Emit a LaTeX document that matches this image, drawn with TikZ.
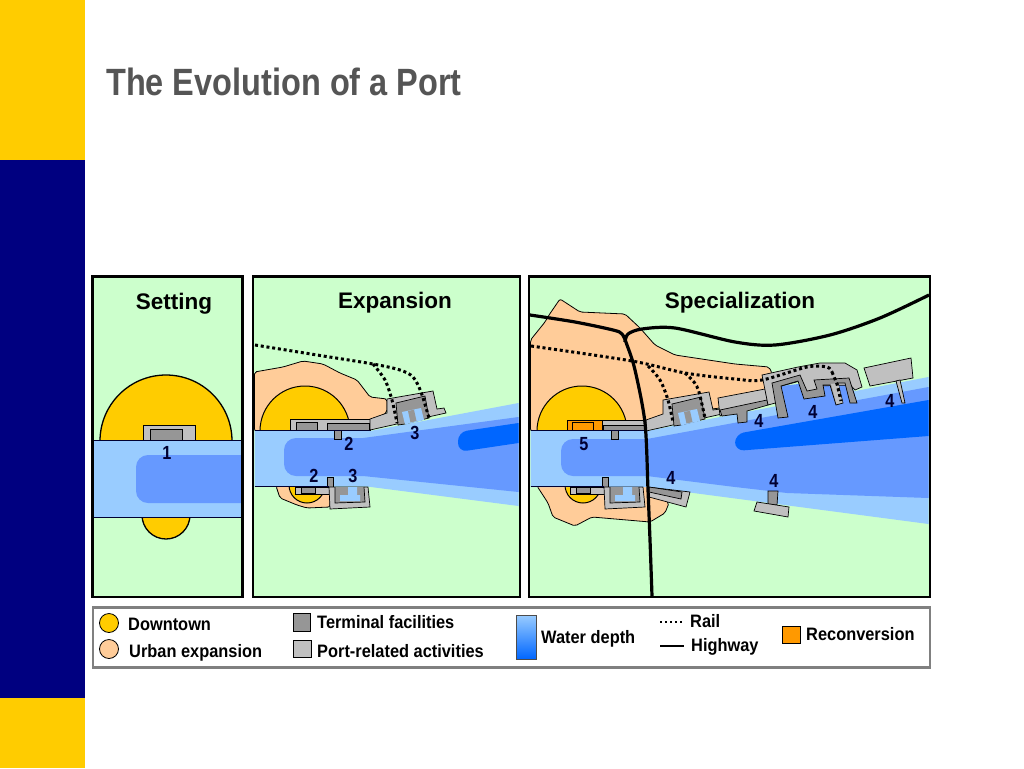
\documentclass[tikz,border=0pt]{standalone}
\usepackage{fontspec}
\setmainfont{Liberation Sans}
\newfontfamily\narrowfont[FakeStretch=0.855]{Liberation Sans}
\newfontfamily\legendfont[FakeStretch=0.91]{Liberation Sans}
\usepackage{xcolor}
\definecolor{sideyellow}{HTML}{FFCC00}
\definecolor{sidenavy}{HTML}{000080}
\definecolor{landgreen}{HTML}{CCFFCC}
\definecolor{urbanpeach}{HTML}{FFCC99}
\definecolor{waterlight}{HTML}{99CCFF}
\definecolor{watermid}{HTML}{6699FF}
\definecolor{waterdeep}{HTML}{0066FF}
\definecolor{terminalgray}{HTML}{969696}
\definecolor{portgray}{HTML}{C0C0C0}
\definecolor{reconorange}{HTML}{FF9900}
\definecolor{titlegray}{HTML}{555555}
\definecolor{numnavy}{HTML}{000033}

\tikzset{
  panel/.style={draw=black, line width=2.5pt, fill=landgreen},
  downtown/.style={draw=black, line width=1.3pt, fill=sideyellow},
  urban/.style={draw=black, line width=0.8pt, fill=urbanpeach, rounded corners=2pt},
  shallow/.style={fill=waterlight},
  shore/.style={draw=black!80!blue, line width=1pt},
  portarea/.style={draw=black, line width=0.7pt, fill=portgray},
  terminal/.style={draw=black, line width=0.7pt, fill=terminalgray},
  rail/.style={line width=3pt, dash pattern=on 3pt off 2.8pt},
  highway/.style={line width=3.2pt, line join=round},
  paneltitle/.style={font=\bfseries\fontsize{22.5}{26}\selectfont},
  numlabel/.style={font=\narrowfont\bfseries\fontsize{19}{22}\selectfont, text=numnavy, inner sep=0pt},
  legendtext/.style={font=\legendfont\bfseries\fontsize{18}{21}\selectfont, anchor=west, inner sep=0pt},
}

% basin on the north bank, drawn at its Expansion position
\newcommand{\northbasin}{
  \draw[portarea] (370,419) -- (387,413) -- (387,399) -- (433,391) -- (437,409) -- (444,408)
    -- (446,413) -- (370,430) -- cycle;
  \draw[terminal] (396,403) -- (425,396) -- (429,418) -- (405,424) -- (398,425) -- cycle;
  \fill[waterlight] (402,412) -- (421,408) -- (424,420) -- (405,424.5) -- cycle;
  \fill[terminalgray] (408,411) -- (414,409.7) -- (416.5,421) -- (410.5,422.5) -- cycle;
}
% basin on the south bank
\newcommand{\southbasin}{
  \draw[terminal] (327,477) rectangle (333,487);
  \draw[portarea] (295,487) rectangle (333,494);
  \draw[terminal] (301,487) rectangle (315,493);
  \draw[portarea] (329,487) -- (330,509) -- (370,507) -- (368,487) -- cycle;
  \fill[terminalgray] (335,487) -- (335,503) -- (365,502) -- (364,487) -- cycle;
  \draw[black, line width=0.7pt] (335,487) -- (335,503) -- (365,502) -- (364,487);
  \fill[waterlight] (348,487) -- (357,487) -- (357,495) -- (360,495) -- (360,501) -- (340,501)
    -- (340,495) -- (348,495) -- cycle;
}

\begin{document}
\begin{tikzpicture}[x=1pt, y=-1pt]
    \useasboundingbox (0,0) rectangle (1024,768);

    % Side band
    \fill[sideyellow] (0,0) rectangle (85,160);
    \fill[sidenavy] (0,160) rectangle (85,698);
    \fill[sideyellow] (0,698) rectangle (85,768);

    % Title
    \node[anchor=base west, inner sep=0pt, text=titlegray, font=\narrowfont\bfseries\fontsize{38}{44}\selectfont]
      (title) at (106,95) {The Evolution of a Port};

    % Panel Setting
    \draw[panel] (92.5,276.5) rectangle (242.5,597);
    \draw[downtown] (166,441) circle (66);
    \draw[downtown] (166,515) circle (24);
    \draw[portarea] (143,425) rectangle (195,441);
    \draw[terminal] (150,429) rectangle (182,441);
    \fill[shallow] (93.5,440) rectangle (241,517);
    \fill[watermid] (241,455) [rounded corners=12pt] -- (136,455) -- (136,503) [sharp corners] -- (241,503) -- cycle;
    \draw[shore] (93.5,440) -- (241,440);
    \draw[shore] (93.5,517) -- (241,517);
    \draw[black, line width=0.8pt] (241,440) -- (241,517);

    % Panel Expansion
    \draw[panel] (253,276.5) rectangle (520,597);
    \draw[urban] (254.5,372) -- (283,367) -- (303,361) -- (323,364) -- (340,373) -- (357,380)
      -- (370,397) -- (387,399) -- (387,412) -- (370,425) -- (370,431) -- (254.5,431) -- cycle;
    \draw[urban] (276,486) -- (280,498) -- (297,505) -- (307,508) -- (330,507) -- (330,486) -- cycle;
    \draw[downtown, line width=1pt] (305,431) circle (45);
    \draw[downtown, line width=1pt] (307,485) circle (18);
    % water
    \fill[shallow] (254.5,431) -- (370,431) -- (518.5,403) -- (518.5,506) -- (367,486.5) -- (254.5,486.5) -- cycle;
    \fill[watermid] (518.5,417) -- (363,438) [rounded corners=12pt] -- (284,438) -- (284,476) [sharp corners] -- (363,476) -- (518.5,492) -- cycle;
    \fill[waterdeep] (518.5,423) [rounded corners=9pt] -- (458,432) -- (458,452) [sharp corners] -- (518.5,443) -- cycle;
    % quays and basins
    \draw[portarea] (290,419) rectangle (370,430);
    \draw[terminal] (296,422) rectangle (317,430);
    \draw[terminal] (327,423) rectangle (369,430);
    \draw[terminal] (334,430) rectangle (341,439);
    \northbasin
    \southbasin
    \draw[shore] (254.5,430.5) -- (370,430.5);
    \draw[shore] (254.5,486.5) -- (329,486.5);
    % rail
    \draw[rail] plot[smooth] coordinates {(255,345) (317,355) (373,364) (400,370) (413,377) (421,392) (429,418)};
    \draw[rail] plot[smooth] coordinates {(373,364) (385,380) (392,400) (397,423)};

    % Panel Specialization
    \draw[panel] (529,276.5) rectangle (930,597);
    \draw[urban] (530.5,340) -- (545,322) -- (549,315) -- (560,299) -- (580,312) -- (625,314)
      -- (640,328) -- (655,345) -- (675,355) -- (735,364) -- (769,367) -- (772,373) -- (765,392)
      -- (720,408) -- (663,415) -- (647,421) -- (647,431) -- (530.5,431) -- cycle;
    \draw[urban] (537,486) -- (548,503) -- (553,517) -- (575,526) -- (592,517) -- (650,522)
      -- (665,513) -- (669,503) -- (648,486) -- cycle;
    \draw[downtown, line width=1pt] (582,431) circle (45);
    \draw[downtown, line width=1pt] (583,485) circle (18);
    % water
    \fill[shallow] (530.5,431) -- (647,431) -- (928.5,377) -- (928.5,524) -- (648,487) -- (530.5,487) -- cycle;
    \fill[watermid] (928.5,387) -- (647,439) [rounded corners=12pt] -- (561,439) -- (561,476) [sharp corners] -- (647,476) -- (735,487) -- (787,493) -- (928.5,498) -- cycle;
    \fill[watermid] (781,386) -- (850,378) -- (857,403) -- (788,418) -- cycle;
    \fill[waterdeep] (928.5,400) [rounded corners=9pt] -- (735,434) -- (735,451) [sharp corners] -- (928.5,436) -- cycle;
    % quays and basins
    \draw[portarea, fill=reconorange] (567,420) rectangle (602,430);
    \draw[black, line width=0.7pt, fill=reconorange] (572,422) rectangle (593,430);
    \draw[portarea] (602,420) rectangle (645,430);
    \draw[terminal] (603,425) rectangle (644,430);
    \draw[terminal] (611,430) rectangle (618,439);
    \begin{scope}[shift={(276,1)}]
      \northbasin
    \end{scope}
    \begin{scope}[shift={(275,0)}]
      \southbasin
    \end{scope}
    \draw[shore] (530.5,430.5) -- (647,430.5);
    \draw[shore] (530.5,486.5) -- (604,486.5);
    % specialized terminals
    \draw[portarea] (648,487) -- (690,492) -- (686,507) -- (649,497) -- cycle;
    \draw[terminal] (649,487) -- (682,492) -- (681,499) -- (649,492) -- cycle;
    \draw[portarea] (718,398) -- (765,389) -- (768,404) -- (720,416) -- cycle;
    \draw[terminal] (720,410) -- (767,400) -- (768,405) -- (747,411) -- (747,422) -- (738,423)
      -- (737,414) -- (722,416) -- cycle;
    \draw[portarea] (762,375) -- (798,367) -- (820,363) -- (845,363) -- (857,370) -- (862,387)
      -- (855,390) -- (850,385) -- (817,386) -- (818,392) -- (805,394) -- (800,381) -- (774,388)
      -- (779,402) -- (768,405) -- cycle;
    \draw[terminal] (778,418) -- (772,383) -- (800,375) -- (807,391) -- (817,389) -- (814,380)
      -- (849,378) -- (857,403) -- (850,403) -- (845,383) -- (838,383) -- (843,403) -- (836,405)
      -- (830,385) -- (823,385) -- (825,396) -- (804,399) -- (798,381) -- (781,386) -- (788,417) -- cycle;
    \fill[portgray] (831,384) -- (838,383) -- (842.5,402.5) -- (836.5,404) -- cycle;
    \draw[portarea] (864,368) -- (911,358) -- (913,378) -- (870,386) -- cycle;
    \draw[portarea] (896,381) -- (900,380) -- (905,403) -- (902,403) -- cycle;
    \draw[terminal] (768,491) -- (778,491) -- (777,505) -- (768,504) -- cycle;
    \draw[portarea] (757,502) -- (789,507) -- (788,517) -- (754,511) -- cycle;
    % rail
    \draw[rail] plot[smooth] coordinates {(531,346) (632,361) (685,373) (735,379) (762,380) (807,367) (827,367) (832,372)};
    \draw[rail] (832,372) -- (837,384) -- (841,401);
    \draw[rail] plot[smooth] coordinates {(648,366) (660,380) (668,400) (673,422)};
    \draw[rail] plot[smooth] coordinates {(685,373) (694,382) (699,392) (705,418)};
    % highway
    \draw[highway] plot[smooth] coordinates {(530,315) (575,322) (613,330) (622,334) (627,345) (635,370) (645,423) (648,490) (650,540) (652,596)};
    \draw[highway] plot[smooth] coordinates {(625,342) (628,334) (642,329) (675,328) (735,342) (775,345) (830,335) (880,318) (929,295)};

    % Panel titles
    \node[paneltitle] (settingtitle) at (174,304) {Setting};
    \node[paneltitle] (expansiontitle) at (395,303) {Expansion};
    \node[paneltitle] (specialtitle) at (740,303) {Specialization};

    % Numbers
    \node[numlabel] (one) at (167,453) {1};
    \node[numlabel] (expa) at (349,444) {2};
    \node[numlabel] (expb) at (415,433) {3};
    \node[numlabel] (expc) at (314,476) {2};
    \node[numlabel] (expd) at (353,476) {3};
    \node[numlabel] (speca) at (584,444) {5};
    \node[numlabel] (specb) at (671,478) {4};
    \node[numlabel] (specc) at (759,421) {4};
    \node[numlabel] (specd) at (813,412) {4};
    \node[numlabel] (spece) at (890,401) {4};
    \node[numlabel] (specf) at (774,481) {4};

    % Legend
    \draw[draw=black!50, line width=2.5pt, fill=white] (93,607.5) rectangle (930,667.5);
    \draw[downtown, line width=0.8pt] (109,623) circle (9.5);
    \draw[downtown, line width=0.8pt, fill=urbanpeach] (109,649) circle (9.5);
    \node[legendtext] (downtownlabel) at (128,624) {Downtown};
    \node[legendtext] (urbanlabel) at (129,653) {Urban expansion};
    \draw[terminal] (293,613) rectangle (310.5,631);
    \draw[portarea] (293,640) rectangle (311,657);
    \node[legendtext] (terminallabel) at (317,622) {Terminal facilities};
    \node[legendtext] (portlabel) at (317,651) {Port-related activities};
    \draw[black!70, line width=0.7pt, top color=waterlight, bottom color=waterdeep] (516,615) rectangle (536,659);
    \node[legendtext] (waterlabel) at (541,639) {Water depth};
    \draw[rail, line width=2.4pt, dash pattern=on 2.4pt off 2.6pt] (660,622) -- (684,622);
    \draw[line width=2.5pt] (660,646) -- (684,646);
    \node[legendtext] (raillabel) at (690,621) {Rail};
    \node[legendtext] (highwaylabel) at (691,647) {Highway};
    \draw[portarea, fill=reconorange] (782,626) rectangle (800,643);
    \node[legendtext] (reconlabel) at (806,634) {Reconversion};
\end{tikzpicture}
\end{document}
